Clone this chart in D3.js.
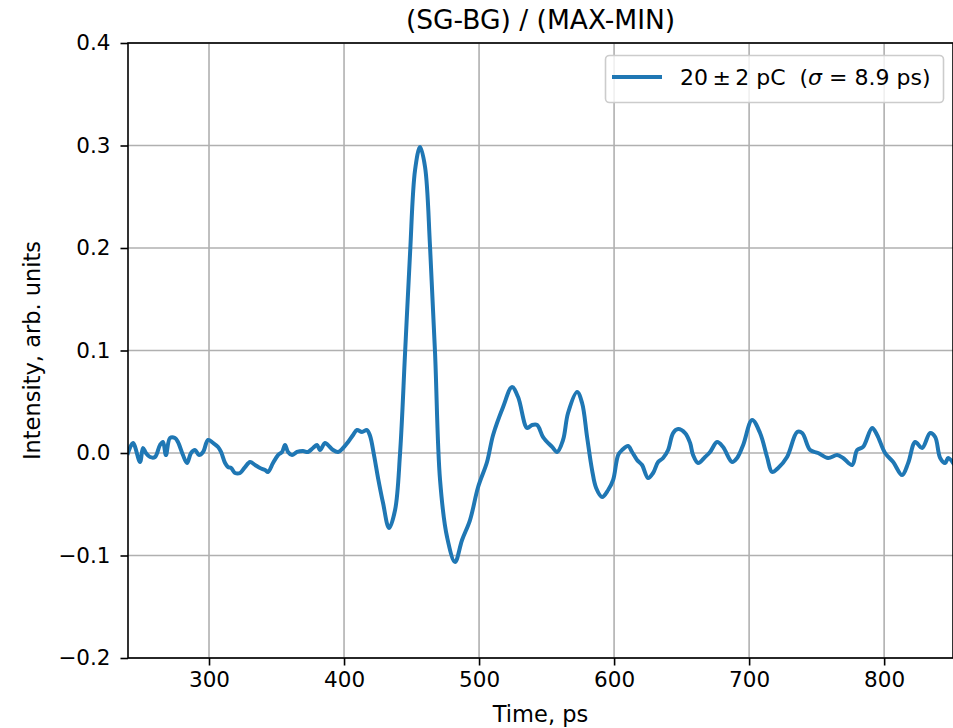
<!DOCTYPE html>
<html>
<head>
<meta charset="utf-8">
<script src="https://cdn.jsdelivr.net/npm/d3@7"></script>
<style>
  html, body { margin: 0; padding: 0; background: #fff; overflow: hidden; }
  svg { display: block; font-family: "DejaVu Sans", sans-serif; }
</style>
</head>
<body>
<svg id="chart" width="953" height="728"></svg>
<script>
// ---- data ----
const titleText = "(SG-BG) / (MAX-MIN)";
const xLabel = "Time, ps";
const yLabel = "Intensity, arb. units";
const seriesName = "20\u2009±\u20092 pC";
const sigmaText = "8.9 ps";
const xTicks = [300, 400, 500, 600, 700, 800];
const yTicks = [-0.2, -0.1, 0.0, 0.1, 0.2, 0.3, 0.4];
const xDomain = [240, 851];
const yDomain = [-0.2, 0.4];

const time = [
  240.0, 243.7, 248.9, 251.1, 253.3, 256.3, 260.0, 263.7, 265.9, 268.1,
  271.1, 274.8, 277.0, 280.7, 283.7, 286.7, 289.6, 292.6, 295.6, 299.3,
  303.0, 306.7, 308.9, 311.9, 314.1, 316.3, 319.3, 323.0, 326.7, 330.4,
  334.1, 337.8, 341.5, 343.7, 347.4, 351.1, 354.1, 356.3, 358.5, 361.5,
  365.2, 369.6, 373.3, 377.0, 380.0, 382.2, 385.9, 388.1, 391.9, 395.6,
  399.3, 403.0, 406.7, 409.6, 413.3, 417.0, 419.3, 422.2, 425.2, 428.9,
  433.3, 437.8, 441.5, 445.2, 448.9, 452.6, 456.3, 460.0, 463.7, 467.4,
  471.1, 476.3, 482.2, 487.4, 493.3, 499.3, 505.9, 510.4, 517.8, 524.4,
  528.9, 535.6, 539.3, 543.0, 547.4, 554.1, 557.8, 562.2, 565.9, 572.6,
  576.3, 580.0, 583.7, 586.7, 591.1, 595.6, 599.3, 603.0, 605.9, 610.4,
  613.3, 617.0, 620.7, 625.2, 628.9, 632.6, 636.3, 640.0, 643.7, 647.4,
  652.6, 656.3, 658.5, 662.2, 667.4, 671.1, 676.3, 680.7, 687.4, 691.1,
  695.6, 702.2, 708.1, 713.3, 717.0, 721.5, 728.1, 735.6, 739.3, 745.2,
  751.1, 758.5, 765.2, 769.6, 776.3, 780.0, 784.4, 791.1, 794.8, 800.7,
  806.7, 813.3, 817.8, 823.0, 828.1, 834.1, 837.8, 841.5, 845.2, 847.4,
  851.1
];
const intensity = [
  0.0000, 0.0098, -0.0088, 0.0049, 0.0000, -0.0039, -0.0039, 0.0078, 0.0107, -0.0020,
  0.0146, 0.0146, 0.0107, -0.0020, -0.0098, 0.0000, 0.0029, -0.0020, 0.0010, 0.0127,
  0.0098, 0.0059, 0.0010, -0.0098, -0.0137, -0.0146, -0.0195, -0.0195, -0.0137, -0.0088,
  -0.0117, -0.0146, -0.0166, -0.0185, -0.0098, -0.0020, 0.0010, 0.0078, 0.0010, -0.0020,
  0.0010, 0.0020, 0.0010, 0.0049, 0.0078, 0.0029, 0.0098, 0.0078, 0.0029, 0.0010,
  0.0049, 0.0107, 0.0176, 0.0224, 0.0205, 0.0224, 0.0166, -0.0020, -0.0244, -0.0488,
  -0.0732, -0.0556, 0.0000, 0.0976, 0.1951, 0.2761, 0.2985, 0.2790, 0.2010, 0.0976,
  -0.0263, -0.0820, -0.1063, -0.0849, -0.0654, -0.0332, -0.0088, 0.0176, 0.0449, 0.0644,
  0.0546, 0.0244, 0.0273, 0.0273, 0.0156, 0.0059, 0.0010, 0.0127, 0.0390, 0.0595,
  0.0488, 0.0156, -0.0166, -0.0341, -0.0429, -0.0361, -0.0263, -0.0020, 0.0029, 0.0068,
  0.0010, -0.0068, -0.0117, -0.0244, -0.0195, -0.0088, -0.0049, 0.0029, 0.0195, 0.0234,
  0.0195, 0.0098, -0.0020, -0.0098, -0.0039, 0.0010, 0.0107, 0.0059, -0.0088, -0.0049,
  0.0078, 0.0322, 0.0195, -0.0039, -0.0185, -0.0146, -0.0039, 0.0205, 0.0195, 0.0029,
  0.0000, -0.0049, -0.0020, -0.0049, -0.0117, 0.0029, 0.0059, 0.0244, 0.0176, 0.0000,
  -0.0088, -0.0215, -0.0098, 0.0107, 0.0049, 0.0195, 0.0156, -0.0049, -0.0098, -0.0049,
  -0.0098
];

// ---- layout ----
const W = 953, H = 728;
const margin = { left: 128, right: 0, top: 43, bottom: 70 };
const plotW = W - margin.left - margin.right;
const plotH = H - margin.top - margin.bottom;
const lineColor = "#1f77b4";
const tickFont = "21.5px";

const svg = d3.select("#chart");
const g = svg.append("g").attr("transform", `translate(${margin.left},${margin.top})`);

const x = d3.scaleLinear().domain(xDomain).range([0, plotW]);
const y = d3.scaleLinear().domain(yDomain).range([plotH, 0]);

// grid
g.append("g").selectAll("line").data(xTicks).join("line")
  .attr("x1", d => x(d)).attr("x2", d => x(d))
  .attr("y1", 0).attr("y2", plotH)
  .attr("stroke", "#b0b0b0").attr("stroke-width", 1.6);
g.append("g").selectAll("line").data(yTicks).join("line")
  .attr("x1", 0).attr("x2", plotW)
  .attr("y1", d => y(d)).attr("y2", d => y(d))
  .attr("stroke", "#b0b0b0").attr("stroke-width", 1.6);

// clip + line
svg.append("defs").append("clipPath").attr("id", "clip")
  .append("rect").attr("x", 0).attr("y", 0).attr("width", plotW).attr("height", plotH);

const pts = time.map((t, i) => [t, intensity[i]]);
const line = d3.line().x(d => x(d[0])).y(d => y(d[1])).curve(d3.curveCatmullRom.alpha(0.5));
g.append("path").attr("clip-path", "url(#clip)")
  .attr("d", line(pts))
  .attr("fill", "none").attr("stroke", lineColor)
  .attr("stroke-width", 4).attr("stroke-linejoin", "round").attr("stroke-linecap", "square");

// axes
const fmtY = d => d3.format(".1f")(d).replace("-", "\u2212");
const xAxis = d3.axisBottom(x).tickValues(xTicks).tickSize(7.5).tickPadding(6).tickFormat(d3.format("d"));
const yAxis = d3.axisLeft(y).tickValues(yTicks).tickSize(7.5).tickPadding(10).tickFormat(fmtY);

const gx = g.append("g").attr("transform", `translate(0,${plotH})`).call(xAxis);
const gy = g.append("g").call(yAxis);
[gx, gy].forEach(a => {
  a.select(".domain").remove();
  a.selectAll(".tick line").attr("stroke", "#000").attr("stroke-width", 1.6);
  a.selectAll(".tick text").attr("fill", "#000")
    .style("font-family", "DejaVu Sans").style("font-size", tickFont);
});

// spines
g.append("rect").attr("x", 0).attr("y", 0).attr("width", plotW).attr("height", plotH)
  .attr("fill", "none").attr("stroke", "#000").attr("stroke-width", 1.6);

// title & labels
svg.append("text").attr("x", margin.left + plotW / 2).attr("y", 29)
  .attr("text-anchor", "middle").style("font-size", "26.5px").attr("fill", "#000")
  .text(titleText);
svg.append("text").attr("x", margin.left + plotW / 2).attr("y", 722)
  .attr("text-anchor", "middle").style("font-size", "22.5px").attr("fill", "#000")
  .text(xLabel);
svg.append("text").attr("transform", `translate(40,${margin.top + plotH / 2}) rotate(-90)`)
  .attr("text-anchor", "middle").style("font-size", "22.5px").attr("fill", "#000")
  .text(yLabel);

// legend
const lg = svg.append("g");
lg.append("rect").attr("x", 605.5).attr("y", 55.5).attr("width", 338).attr("height", 47)
  .attr("rx", 4).attr("fill", "#fff").attr("fill-opacity", 0.8)
  .attr("stroke", "#cccccc").attr("stroke-width", 1.6);
lg.append("line").attr("x1", 614).attr("x2", 660).attr("y1", 77).attr("y2", 77)
  .attr("stroke", lineColor).attr("stroke-width", 4).attr("stroke-linecap", "square");
const lt = lg.append("text").attr("x", 680).attr("y", 85).style("font-size", "22px").attr("fill", "#000")
  .attr("xml:space", "preserve");
lt.append("tspan").text(seriesName + "  (");
lt.append("tspan").style("font-style", "italic").text("σ");
lt.append("tspan").text(" = " + sigmaText + ")");
</script>
</body>
</html>
